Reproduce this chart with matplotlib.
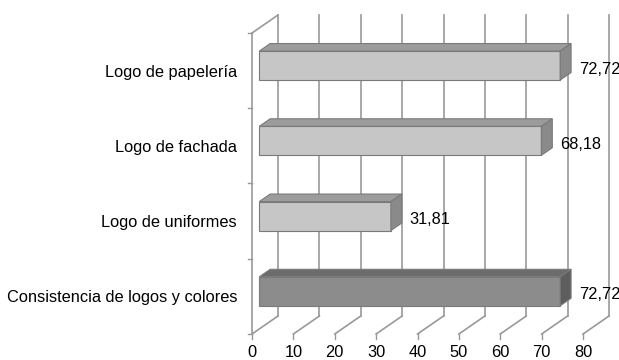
import matplotlib
matplotlib.use('Agg')
import matplotlib.pyplot as plt
from matplotlib.patches import Polygon

categories = ['Consistencia de logos y colores', 'Logo de uniformes',
              'Logo de fachada', 'Logo de papelería']
values = [72.72, 31.81, 68.18, 72.72]
labels = ['72,72', '31,81', '68,18', '72,72']
xticks = [0, 10, 20, 30, 40, 50, 60, 70, 80]

plt.rcParams['font.family'] = ['Liberation Sans', 'DejaVu Sans']

# pixel -> data mapping (figure 619x360, front x axis 0..80 at 252..583 px)
PX_X = 331 / 80.0
PX_Y = 75.25
X0, Y0 = 252, 334

fig = plt.figure(figsize=(6.19, 3.6), dpi=100)
ax = fig.add_axes([0, 0, 1, 1])
ax.set_xlim(-X0 / PX_X, (619 - X0) / PX_X)
ax.set_ylim(-(360 - Y0) / PX_Y, Y0 / PX_Y)
ax.axis('off')

# depth of the pseudo 3d box (back wall offset)
DX = 26 / PX_X
DY = 18 / PX_Y
n = len(categories)
grid_c = '#999999'
fs = 11.8

# back wall gridlines + floor diagonals
for t in xticks:
    ax.plot([t + DX, t + DX], [DY, n + DY], color=grid_c, lw=1.2, zorder=1)
    ax.plot([t, t + DX], [0, DY], color=grid_c, lw=1.2, zorder=1)
    ax.plot([t, t], [0, -0.06], color=grid_c, lw=1.0, zorder=1)
    ax.text(t, -0.25, str(t), ha='center', va='center', fontsize=fs)

# left wall
ax.plot([0, 0], [0, n], color=grid_c, lw=1.2, zorder=1)
ax.plot([0, DX], [n, n + DY], color=grid_c, lw=1.2, zorder=1)
for i in range(n + 1):
    ax.plot([-1.0, 0], [i, i], color=grid_c, lw=1.0, zorder=1)

# bars
f1, f2 = 0.28, 0.70
bh = 0.385
light = ('#c6c6c6', '#9c9c9c', '#8a8a8a')
dark = ('#8c8c8c', '#6c6c6c', '#5e5e5e')
for i, (cat, v, lab) in enumerate(zip(categories, values, labels)):
    front, top, side = dark if i == 0 else light
    ox, oy = DX * f1, DY * f1
    ex, ey = DX * (f2 - f1), DY * (f2 - f1)
    yb = i + 0.5 - bh / 2 + oy
    ax.barh(yb, v, height=bh, left=ox, align='edge', color=front,
            edgecolor='#7a7a7a', lw=0.8, zorder=3)
    yt = yb + bh
    ax.add_patch(Polygon([(ox, yt), (ox + v, yt), (ox + v + ex, yt + ey),
                          (ox + ex, yt + ey)], closed=True, facecolor=top,
                         edgecolor='#7a7a7a', lw=0.8, zorder=3))
    ax.add_patch(Polygon([(ox + v, yb), (ox + v + ex, yb + ey),
                          (ox + v + ex, yt + ey), (ox + v, yt)], closed=True,
                         facecolor=side, edgecolor='#7a7a7a', lw=0.8, zorder=3))
    ax.text(v + 6.3, i + 0.5 + 0.02, lab, ha='left', va='center', fontsize=fs,
            zorder=4)
    ax.text(-3.6, i + 0.5 - 0.02, cat, ha='right', va='center', fontsize=fs)

fig.savefig('out.png', dpi=100)
